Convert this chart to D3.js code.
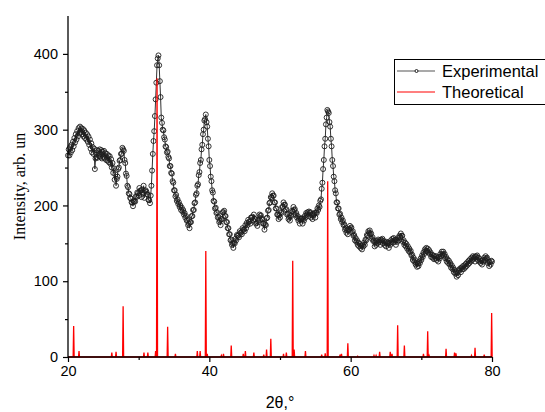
<!DOCTYPE html>
<html>
<head>
<meta charset="utf-8">
<script src="https://cdn.jsdelivr.net/npm/d3@7"></script>
<style>
  body { margin: 0; background: #fff; }
  text { font-family: "Liberation Sans", Arial, sans-serif; }
</style>
</head>
<body>
<div id="chart"></div>
<script>
// experimental pattern, 20.0 .. 80.0 deg in 0.1 deg steps (one row per degree)
var expStart = 20, expStep = 0.1;
var expValues = [
  266, 274, 266, 277, 270, 280, 273, 284, 278, 289,
  283, 294, 287, 298, 291, 302, 295, 304, 297, 302,
  294, 301, 291, 299, 289, 296, 287, 294, 284, 291,
  280, 287, 275, 282, 270, 277, 268, 275, 248, 262,
  264, 273, 263, 272, 265, 274, 264, 273, 262, 271,
  264, 272, 262, 269, 260, 268, 259, 266, 257, 265,
  255, 261, 250, 256, 243, 249, 234, 241, 226, 235,
  238, 248, 250, 259, 260, 268, 268, 276, 274, 272,
  260, 256, 242, 239, 226, 224, 216, 215, 210, 209,
  204, 204, 199, 205, 206, 205, 212, 211, 217, 216,
  213, 223, 219, 220, 211, 221, 217, 226, 210, 219,
  220, 218, 215, 214, 207, 207, 203, 213, 226, 246,
  268, 285, 298, 318, 340, 362, 385, 394, 398, 385,
  364, 343, 316, 309, 300, 299, 290, 287, 278, 277,
  270, 271, 264, 262, 252, 252, 243, 242, 232, 230,
  220, 220, 212, 214, 206, 208, 202, 204, 198, 200,
  194, 197, 192, 194, 188, 190, 184, 186, 180, 181,
  174, 176, 170, 178, 178, 186, 186, 194, 194, 203,
  204, 214, 216, 226, 228, 240, 244, 256, 260, 274,
  280, 294, 300, 312, 314, 320, 310, 304, 288, 278,
  260, 252, 238, 232, 220, 217, 206, 205, 196, 197,
  190, 191, 184, 185, 178, 180, 174, 182, 182, 191,
  191, 193, 186, 186, 178, 178, 170, 170, 162, 162,
  154, 155, 148, 150, 144, 151, 150, 156, 154, 161,
  160, 160, 158, 166, 164, 164, 162, 170, 168, 168,
  166, 174, 170, 177, 174, 181, 178, 179, 176, 184,
  184, 185, 180, 188, 182, 182, 176, 177, 173, 181,
  180, 188, 186, 187, 182, 182, 176, 176, 168, 175,
  174, 183, 184, 193, 194, 203, 204, 211, 210, 216,
  213, 213, 204, 204, 196, 196, 188, 188, 182, 187,
  184, 191, 190, 198, 198, 204, 201, 201, 194, 195,
  188, 189, 182, 184, 180, 187, 186, 193, 192, 198,
  194, 195, 188, 190, 184, 186, 180, 182, 176, 183,
  182, 183, 176, 182, 180, 186, 184, 190, 188, 191,
  186, 192, 190, 191, 184, 187, 182, 189, 188, 190,
  184, 191, 190, 196, 194, 200, 198, 206, 208, 222,
  230, 248, 260, 278, 288, 307, 316, 326, 324, 322,
  310, 304, 288, 278, 260, 252, 238, 232, 220, 216,
  204, 204, 196, 196, 188, 189, 182, 184, 178, 180,
  174, 175, 168, 170, 164, 167, 162, 169, 168, 173,
  170, 171, 164, 166, 160, 161, 154, 157, 152, 154,
  148, 151, 146, 149, 144, 147, 142, 148, 146, 151,
  148, 155, 154, 161, 160, 166, 164, 167, 162, 163,
  156, 158, 153, 154, 146, 151, 148, 153, 150, 155,
  152, 154, 148, 155, 154, 156, 150, 153, 148, 151,
  146, 152, 150, 151, 144, 150, 148, 154, 152, 156,
  151, 157, 154, 155, 148, 154, 152, 157, 154, 160,
  158, 163, 160, 160, 152, 154, 148, 151, 146, 149,
  143, 146, 140, 143, 138, 140, 134, 135, 128, 131,
  126, 128, 122, 124, 119, 123, 120, 126, 124, 130,
  128, 134, 132, 138, 136, 142, 140, 144, 140, 143,
  138, 141, 136, 138, 132, 135, 131, 134, 129, 133,
  130, 133, 128, 131, 126, 132, 130, 136, 133, 139,
  136, 139, 134, 136, 130, 132, 126, 129, 124, 127,
  122, 124, 118, 121, 116, 118, 112, 115, 110, 112,
  106, 111, 108, 115, 114, 117, 112, 118, 116, 120,
  116, 121, 118, 123, 120, 125, 122, 127, 124, 129,
  126, 131, 128, 133, 130, 132, 126, 133, 132, 134,
  128, 131, 126, 129, 124, 127, 122, 128, 126, 131,
  128, 133, 130, 131, 124, 126, 120, 125, 122, 127,
  126
];

// theoretical reflections: position (2theta) and intensity
var theoPos = [20.8, 21.56, 26.2, 26.8, 27.8, 30.75, 31.3, 32.4, 32.6, 34.1, 35.2,
  38.3, 38.7, 39.5, 39.7, 41.7, 42.0, 43.1, 44.8, 45.1, 46.3, 47.7, 48.1, 48.7,
  50.5, 50.9, 51.8, 52.0, 53.6, 55.9, 56.4, 56.75, 58.5, 58.7, 59.6, 61.0,
  63.3, 63.6, 64.1, 65.6, 65.85, 66.65, 67.6, 70.3, 70.9, 71.1, 73.5, 74.7,
  74.9, 77.1, 77.6, 78.9, 79.95];
var theoInt = [41, 8, 6, 7, 67, 6, 6, 8, 368, 40, 4,
  8, 8, 140, 4, 2, 4, 15, 4, 8, 6, 3, 10, 24,
  4, 6, 127, 10, 8, 3, 5, 232, 3, 4, 18, 1,
  2, 2, 7, 7, 4, 42, 15, 4, 34, 2, 11, 6,
  5, 2, 12, 3, 58];

var xTicks = [20, 40, 60, 80];
var yTicks = [0, 100, 200, 300, 400];

var W = 545, H = 412;
var svg = d3.select("#chart").append("svg")
    .attr("width", W)
    .attr("height", H);

var x = d3.scaleLinear().domain([20, 80]).range([68, 492]);
var y = d3.scaleLinear().domain([0, 450]).range([357, 16]);

var expData = expValues.map(function (v, i) {
    return { t: expStart + i * expStep, v: v };
});

// experimental: thin line + open circles (no fill, they pile up into a dark band)
svg.append("path")
    .datum(expData)
    .attr("fill", "none")
    .attr("stroke", "#333")
    .attr("stroke-width", 1)
    .attr("d", d3.line().x(function (d) { return x(d.t); }).y(function (d) { return y(d.v); }));

svg.selectAll(".pt")
    .data(expData)
    .enter()
    .append("circle")
    .attr("class", "pt")
    .attr("cx", function (d) { return x(d.t); })
    .attr("cy", function (d) { return y(d.v); })
    .attr("r", 2.5)
    .attr("fill", "none")
    .attr("stroke", "#1e1e1e")
    .attr("stroke-width", 0.9);

// theoretical sticks drawn as a single red trace along the baseline
var theo = [{ t: 20, v: 0 }];
theoPos.forEach(function (p, i) {
    theo.push({ t: p - 0.07, v: 0 });
    theo.push({ t: p, v: theoInt[i] });
    theo.push({ t: p + 0.07, v: 0 });
});
theo.push({ t: 80, v: 0 });

svg.append("path")
    .datum(theo)
    .attr("fill", "none")
    .attr("stroke", "#ff0000")
    .attr("stroke-width", 1.3)
    .attr("d", d3.line().x(function (d) { return x(d.t); }).y(function (d) { return y(d.v); }));

// axes
var xAxis = svg.append("g")
    .attr("transform", "translate(0," + y(0) + ")")
    .call(d3.axisBottom(x).tickValues(xTicks).tickSize(5).tickPadding(4).tickFormat(d3.format("d")));
svg.append("g")
    .attr("transform", "translate(0," + y(0) + ")")
    .call(d3.axisBottom(x).tickValues([30, 50, 70]).tickSize(3).tickFormat(""))
    .select(".domain").remove();

var yAxis = svg.append("g")
    .attr("transform", "translate(" + x(20) + ",0)")
    .call(d3.axisLeft(y).tickValues(yTicks).tickSize(5).tickPadding(5).tickFormat(d3.format("d")));
svg.append("g")
    .attr("transform", "translate(" + x(20) + ",0)")
    .call(d3.axisLeft(y).tickValues([50, 150, 250, 350]).tickSize(3).tickFormat(""))
    .select(".domain").remove();

svg.selectAll(".domain").attr("stroke", "#000").attr("stroke-width", 1.3);
svg.selectAll(".tick line").attr("stroke", "#000").attr("stroke-width", 1.2);
svg.selectAll(".tick text")
    .style("font-family", "'Liberation Sans', Arial, sans-serif")
    .style("font-size", "14.5px")
    .attr("fill", "#000");
// plain axis lines without the end stubs
xAxis.select(".domain").attr("d", "M" + x(20) + ",0H" + x(80));
yAxis.select(".domain").attr("d", "M0," + y(0) + "V" + y(450));

// axis titles
svg.append("text")
    .attr("transform", "translate(25," + y(225) + ") rotate(-90)")
    .attr("text-anchor", "middle")
    .style("font-family", "'Liberation Serif', 'Times New Roman', serif")
    .style("font-size", "16px")
    .text("Intensity, arb. un");

svg.append("text")
    .attr("x", x(50))
    .attr("y", 408)
    .attr("text-anchor", "middle")
    .style("font-size", "16px")
    .text("2θ,°");

// legend
var lg = svg.append("g");
lg.append("rect")
    .attr("x", 394.5).attr("y", 59.5)
    .attr("width", 160).attr("height", 45)
    .attr("fill", "#fff")
    .attr("stroke", "#000")
    .attr("stroke-width", 1);
lg.append("line")
    .attr("x1", 397).attr("x2", 435).attr("y1", 71).attr("y2", 71)
    .attr("stroke", "#555").attr("stroke-width", 1.2);
lg.append("circle")
    .attr("cx", 416.5).attr("cy", 71).attr("r", 1.5)
    .attr("fill", "#fff").attr("stroke", "#222").attr("stroke-width", 1);
lg.append("line")
    .attr("x1", 397).attr("x2", 435).attr("y1", 92).attr("y2", 92)
    .attr("stroke", "#ff0000").attr("stroke-width", 1.2);
lg.append("text").attr("x", 442).attr("y", 77)
    .style("font-size", "16.5px").text("Experimental");
lg.append("text").attr("x", 442).attr("y", 98)
    .style("font-size", "16.5px").text("Theoretical");
</script>
</body>
</html>
